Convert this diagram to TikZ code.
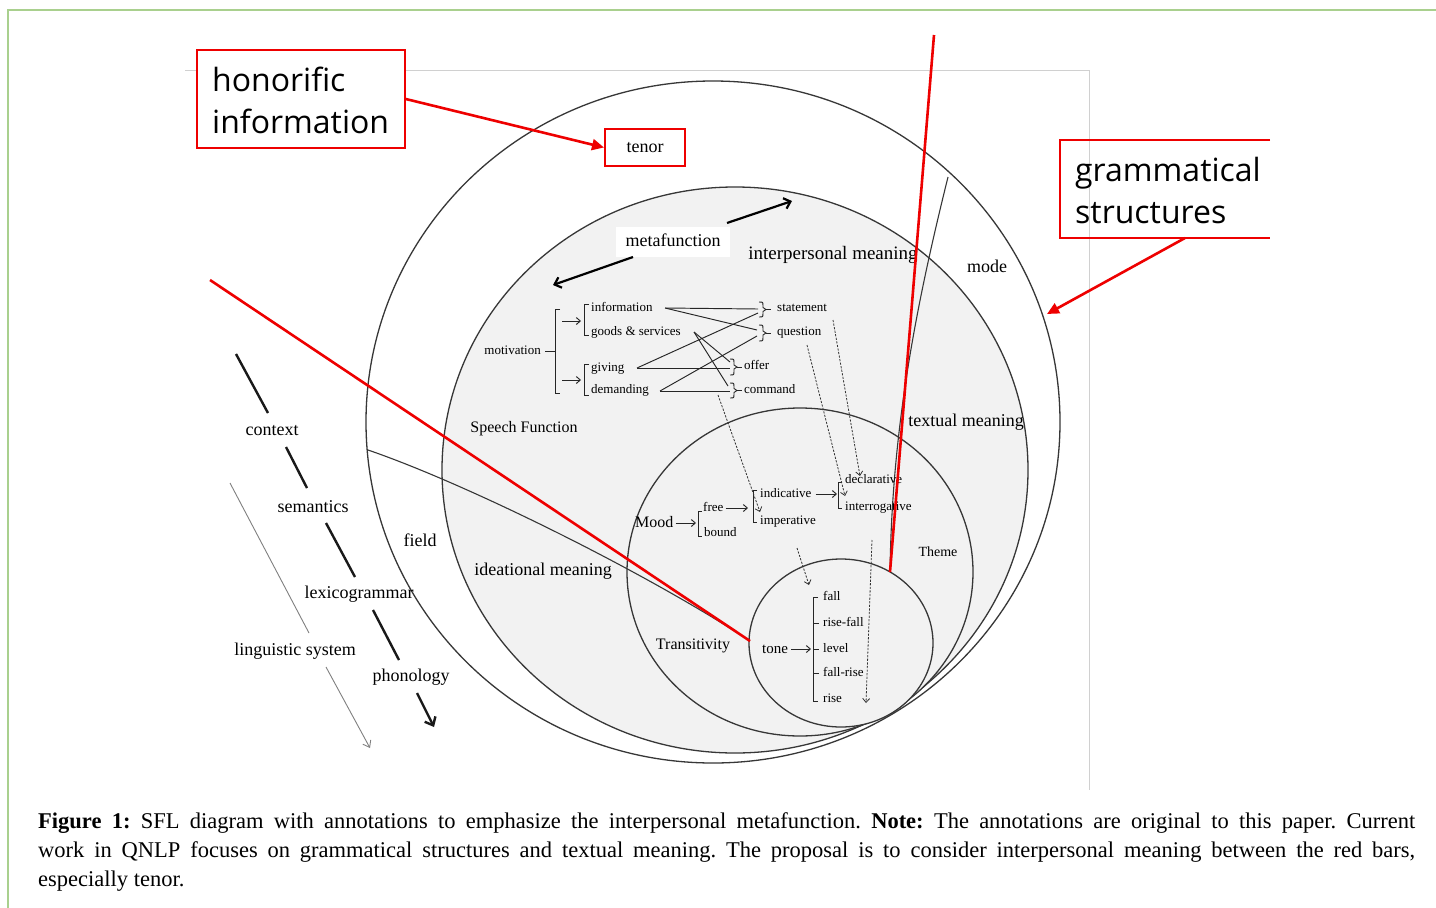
\documentclass[tikz,border=0pt]{standalone}
\usepackage{fontspec}
\setmainfont{Liberation Serif}
\newfontfamily\annfont{Open Sans}
\usetikzlibrary{arrows.meta}
\definecolor{framegreen}{RGB}{169,208,142}
\definecolor{guidegray}{RGB}{208,208,208}
\definecolor{ringfill}{RGB}{242,242,242}
\definecolor{ringline}{RGB}{55,55,55}
\definecolor{annred}{RGB}{238,0,0}
% right-hand brace with a short tick: x, top y, bottom y
\newcommand\netbrace[3]{%
  \draw[net] (#1,#2) .. controls (#1+4,#2) .. (#1+4,#2+4) -- (#1+4,{(#2+#3)/2-2}) -- (#1+7,{(#2+#3)/2})
    -- (#1+4,{(#2+#3)/2+2}) -- (#1+4,#3-4) .. controls (#1+4,#3) .. (#1,#3);
  \draw[net] (#1+7,{(#2+#3)/2}) -- (#1+12,{(#2+#3)/2});}
\frenchspacing
\begin{document}
\begin{tikzpicture}[x=1pt,y=-1pt,
  ring/.style={draw=ringline, line width=1.3pt},
  sep/.style={draw=ringline, line width=1.1pt},
  net/.style={draw=black!85, line width=0.95pt},
  netarrow/.style={net, -{Straight Barb[length=4pt,width=7pt]}},
  dotarrow/.style={draw=black!80, line width=0.8pt, dash pattern=on 2.2pt off 1.4pt, -{Straight Barb[length=4pt,width=7pt]}},
  strat/.style={draw=black!90, line width=2.4pt},
  sysarrow/.style={draw=black!50, line width=0.9pt},
  redline/.style={draw=annred, line width=2.6pt},
  redarrow/.style={redline, -{Triangle[length=12pt,width=11pt]}},
  lbl/.style={inner sep=0pt, font=\fontsize{18}{18}\selectfont, text height=12.6pt, text depth=3.6pt},
  lblm/.style={inner sep=0pt, font=\fontsize{16}{16}\selectfont, text height=11.2pt, text depth=3.2pt},
  lbls/.style={inner sep=0pt, font=\fontsize{13}{13}\selectfont, text height=9.1pt, text depth=2.6pt},
  anntext/.style={inner sep=0pt, font=\annfont\fontsize{32}{42}\selectfont, align=left},
  captext/.style={inner sep=0pt, anchor=base west, font=\fontsize{22.5}{29}\selectfont}
]
\useasboundingbox (0,0) rectangle (1436,908);
\fill[white] (0,0) rectangle (1436,908);

% page frame and guide lines
\draw[framegreen, line width=1.4pt] (8,908) -- (8,10) -- (1436,10);
\draw[guidegray, line width=0.8pt] (185,70) -- (1089,70) -- (1089,790);

% nested rings
\coordinate (cContext) at (713,422);
\coordinate (cSem) at (735,470);
\coordinate (cLex) at (800,572);
\coordinate (cPhon) at (841,643);
\draw[ring, fill=white] (cContext) ellipse [x radius=347pt, y radius=341pt];
\draw[ring, fill=ringfill] (cSem) ellipse [x radius=293pt, y radius=283pt];
\draw[ring, fill=ringfill] (cLex) ellipse [x radius=173pt, y radius=164pt];
\draw[ring, fill=ringfill] (cPhon) ellipse [x radius=92pt, y radius=84pt];

% sector boundaries
\coordinate (modeTop) at (948,177);
\coordinate (modeEnd) at (890,572);
\coordinate (fieldTop) at (368,450);
\coordinate (fieldEnd) at (750,641);
\draw[sep] (modeTop) .. controls (915,310) and (892,430) .. (modeEnd);
\draw[sep] (fieldTop) .. controls (470,485) and (650,575) .. (fieldEnd);

% metafunction
\node[lbl, fill=white, inner xsep=10pt, inner ysep=7pt] (metaf) at (673,242) {metafunction};
\coordinate (mfA) at (727,223);
\coordinate (mfB) at (792,201);
\coordinate (mfC) at (633,257);
\coordinate (mfD) at (553,285);
\draw[line width=2.2pt, -{Straight Barb[length=6pt,width=11pt]}] (mfA) -- (mfB);
\draw[line width=2.2pt, -{Straight Barb[length=6pt,width=11pt]}] (mfC) -- (mfD);

% ring labels
\node[lbl, font=\fontsize{19}{19}\selectfont] (interp) at (833,255) {interpersonal meaning};
\node[lbl] (mode) at (987,268) {mode};
\node[lblm] (speech) at (524,428) {Speech Function};
\node[lbl] (textual) at (966,422) {textual meaning};
\node[lbl, font=\fontsize{14}{14}\selectfont] (theme) at (938,552) {Theme};
\node[lbl] (ideat) at (543,571) {ideational meaning};
\node[lblm] (trans) at (693,645) {Transitivity};
\node[lbl] (field) at (420,542) {field};

% strata
\node[lbl] (context) at (272,431) {context};
\node[lbl] (semantics) at (313,508) {semantics};
\node[lbl] (lexgram) at (359,594) {lexicogrammar};
\node[lbl] (lingsys) at (295,651) {linguistic system};
\node[lbl] (phonol) at (411,677) {phonology};
\draw[strat] (236,354) -- (268,413);
\draw[strat] (286,447) -- (307,488);
\draw[strat] (326,523) -- (355,577);
\draw[strat] (373,610) -- (399,660);
\draw[strat, -{Straight Barb[length=7pt,width=12pt]}] (417,693) -- (434,727);
\draw[sysarrow] (230,483) -- (309,633);
\draw[sysarrow, -{Straight Barb[length=6pt,width=9pt]}] (326,667) -- (370,748);

% speech function network
\node[lbls, anchor=east] (motiv) at (541,351) {motivation};
\node[lbls, anchor=west] (info) at (591,308) {information};
\node[lbls, anchor=west] (goods) at (591,332) {goods \& services};
\node[lbls, anchor=west] (giving) at (591,368) {giving};
\node[lbls, anchor=west] (demand) at (591,390) {demanding};
\node[lbls, anchor=west] (statement) at (777,308) {statement};
\node[lbls, anchor=west] (question) at (777,332) {question};
\node[lbls, anchor=west] (offer) at (744,366) {offer};
\node[lbls, anchor=west] (command) at (744,390) {command};
\draw[net] (545,351) -- (555,351);
\draw[net] (560,309) -- (555,309) -- (555,393) -- (560,393);
\draw[netarrow] (562,321) -- (581,321);
\draw[netarrow] (562,380) -- (581,380);
\draw[net] (589,304) -- (584,304) -- (584,335) -- (589,335);
\draw[net] (589,364) -- (584,364) -- (584,395) -- (589,395);
\netbrace{759}{302}{317}
\netbrace{759}{325}{341}
\netbrace{730}{359}{375}
\netbrace{730}{383}{398}
\coordinate (infoR) at (665,308);
\coordinate (goodsR) at (694,332);
\coordinate (givingR) at (637,368);
\coordinate (demandR) at (660,391);
\coordinate (stIn) at (758,309);
\coordinate (stInB) at (758,313);
\coordinate (quIn) at (757,330);
\coordinate (quInB) at (757,336);
\coordinate (ofIn) at (730,368);
\coordinate (ofInT) at (730,362);
\coordinate (coIn) at (730,391);
\coordinate (coInT) at (728,386);
\draw[net] (infoR) -- (stIn);
\draw[net] (infoR) -- (quIn);
\draw[net] (givingR) -- (stInB);
\draw[net] (givingR) -- (ofIn);
\draw[net] (demandR) -- (quInB);
\draw[net] (demandR) -- (coIn);
\draw[net] (goodsR) -- (ofInT);
\draw[net] (goodsR) -- (coInT);

% mood network
\node[lblm, anchor=west] (mood) at (635,523) {Mood};
\node[lbls, anchor=west] (free) at (703,508) {free};
\node[lbls, anchor=west] (bound) at (704,533) {bound};
\node[lbls, anchor=west] (indic) at (760,494) {indicative};
\node[lbls, anchor=west] (imper) at (760,521) {imperative};
\node[lbls, anchor=west] (declar) at (845,480) {declarative};
\node[lbls, anchor=west] (interr) at (845,507) {interrogative};
\draw[netarrow] (mood.east) ++(2,0) -- (696,523);
\draw[net] (702,511) -- (698,511) -- (698,536) -- (702,536);
\draw[netarrow] (free.east) ++(2,0) -- (748,508);
\draw[net] (757,490) -- (753,490) -- (753,522) -- (757,522);
\draw[netarrow] (indic.east) ++(4,0) -- (837,494);
\draw[net] (842,482) -- (838,482) -- (838,508) -- (842,508);

% tone network
\node[lblm, font=\fontsize{15}{15}\selectfont] (tone) at (775,649) {tone};
\node[lbls, anchor=west] (fall) at (823,597) {fall};
\node[lbls, anchor=west] (risefall) at (823,623) {rise-fall};
\node[lbls, anchor=west] (level) at (823,649) {level};
\node[lbls, anchor=west] (fallrise) at (823,673) {fall-rise};
\node[lbls, anchor=west] (rise) at (823,699) {rise};
\draw[netarrow] (tone.east) ++(3,0) -- (811,649);
\draw[net] (818,597) -- (813,597) -- (813,701) -- (818,701);
\draw[net] (813,623) -- (819,623);
\draw[net] (813,649) -- (819,649);
\draw[net] (813,673) -- (819,673);

% realisation arrows
\draw[dotarrow] (833,320) -- (860,476);
\draw[dotarrow] (807,345) -- (845,496);
\draw[dotarrow] (718,395) -- (760,512);
\draw[dotarrow] (797,548) -- (809,585);
\draw[dotarrow] (872,540) -- (866,703);

% annotations
\node[draw=annred, line width=2pt, minimum width=80pt, minimum height=37pt, inner sep=0pt, font=\fontsize{18}{18}\selectfont] (tenor) at (645,147.5) {tenor};
\node[draw=annred, fill=white, line width=1.6pt, minimum width=208pt, minimum height=98pt, inner sep=0pt] (honbox) at (301,99) {};
\node[anntext, anchor=west] (hontext) at (212,100) {honorific\\information};
\draw[annred, line width=1.6pt] (1270,140) -- (1060,140) -- (1060,238) -- (1270,238);
\node[anntext, anchor=west] (gramtext) at (1075,190) {grammatical\\structures};
\coordinate (gramBot) at (1185,238);
\coordinate (outerHit) at (1047,314);
\draw[redarrow] (honbox.east) -- (tenor.west);
\draw[redarrow] (gramBot) -- (outerHit);
\coordinate (barTop) at (934,35);
\coordinate (barLeft) at (210,280);
\draw[redline] (barTop) -- (modeEnd);
\draw[redline] (barLeft) -- (fieldEnd);

% caption
\node[captext] (cap1) at (38,828) {\makebox[1377pt][s]{\textbf{Figure 1:} SFL diagram with annotations to emphasize the interpersonal metafunction. \textbf{Note:} The annotations are original to this paper. Current}};
\node[captext] (cap2) at (38,857) {\makebox[1377pt][s]{work in QNLP focuses on grammatical structures and textual meaning. The proposal is to consider interpersonal meaning between the red bars,}};
\node[captext] (cap3) at (38,886) {especially tenor.};
\end{tikzpicture}
\end{document}
